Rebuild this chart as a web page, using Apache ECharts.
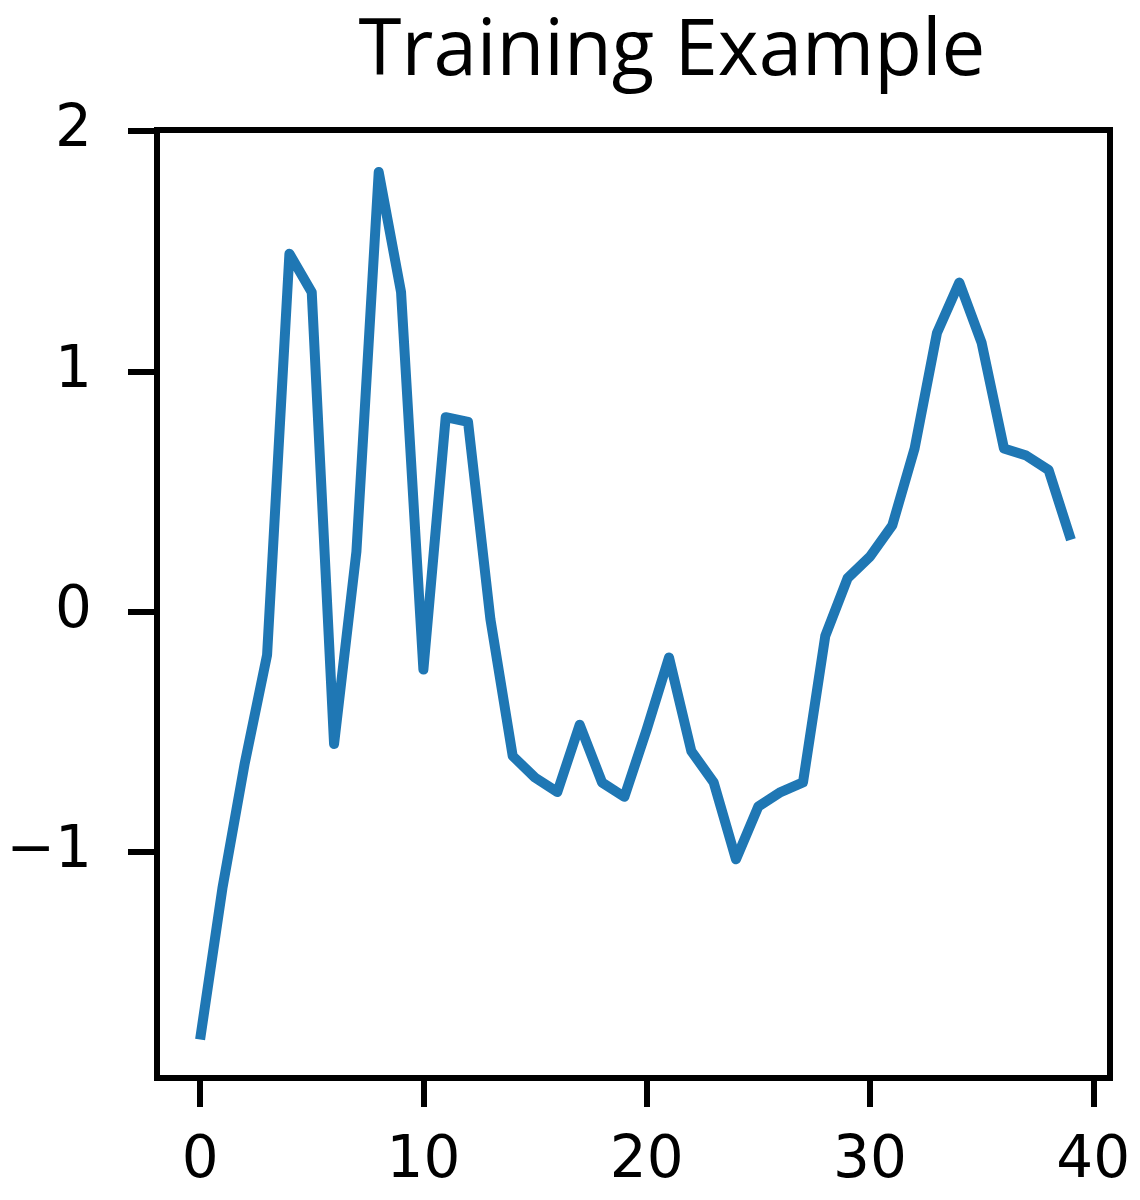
<!DOCTYPE html>
<html>
<head>
<meta charset="utf-8">
<script src="https://cdn.jsdelivr.net/npm/echarts@6/dist/echarts.min.js"></script>
<style>
html, body { margin: 0; padding: 0; background: #fff; }
#chart { width: 1140px; height: 1200px; }
</style>
</head>
<body>
<div id="chart"></div>
<script>
// step index along the x axis
var steps = [0, 1, 2, 3, 4, 5, 6, 7, 8, 9,
    10, 11, 12, 13, 14, 15, 16, 17, 18, 19,
    20, 21, 22, 23, 24, 25, 26, 27, 28, 29,
    30, 31, 32, 33, 34, 35, 36, 37, 38, 39];
// series values
var values = [-1.78, -1.15, -0.63, -0.18, 1.49, 1.33, -0.55, 0.25, 1.83, 1.33,
    -0.24, 0.81, 0.79, -0.03, -0.60, -0.69, -0.75, -0.47, -0.71, -0.77,
    -0.49, -0.19, -0.58, -0.71, -1.03, -0.81, -0.75, -0.71, -0.10, 0.14,
    0.23, 0.36, 0.68, 1.16, 1.37, 1.12, 0.68, 0.65, 0.59, 0.30];
var xTicks = [0, 10, 20, 30, 40];
var yTicks = [-1, 0, 1, 2];
var titleText = 'Training Example';

var points = [];
steps.forEach(function (s, i) {
    points.push([s, values[i]]);
});

var chart = echarts.init(document.getElementById('chart'));
var tickFont = {
    color: '#000',
    fontSize: 58,
    fontFamily: 'DejaVu Sans'
};
var option = {
    animation: false,
    backgroundColor: '#fff',
    graphic: [{
        type: 'text',
        x: 672,
        y: 53,
        style: {
            text: titleText,
            fontSize: 78,
            fontFamily: 'Open Sans',
            fill: '#000',
            align: 'center',
            verticalAlign: 'middle'
        }
    }],
    grid: {
        left: 157,
        right: 30,
        top: 130,
        bottom: 122,
        show: true,
        borderColor: '#000',
        borderWidth: 6,
        backgroundColor: 'transparent'
    },
    xAxis: {
        type: 'value',
        min: -1.93,
        max: 40.75,
        splitLine: { show: false },
        axisLine: { show: true, onZero: false, lineStyle: { color: '#000', width: 6 } },
        axisTick: {
            show: true,
            length: 29,
            customValues: xTicks,
            lineStyle: { color: '#000', width: 6 }
        },
        axisLabel: Object.assign({
            margin: 55,
            customValues: xTicks
        }, tickFont)
    },
    yAxis: {
        type: 'value',
        min: -1.94,
        max: 2.005,
        splitLine: { show: false },
        axisLine: { show: true, onZero: false, lineStyle: { color: '#000', width: 6 } },
        axisTick: {
            show: true,
            length: 29,
            customValues: yTicks,
            lineStyle: { color: '#000', width: 6 }
        },
        axisLabel: Object.assign({
            margin: 65,
            customValues: yTicks,
            formatter: function (v) {
                return v < 0 ? '\u2212' + Math.abs(v) : String(v);
            }
        }, tickFont)
    },
    series: [{
        type: 'line',
        data: points,
        symbol: 'none',
        showSymbol: false,
        lineStyle: {
            color: '#1f77b4',
            width: 10,
            cap: 'butt',
            join: 'round'
        }
    }]
};
chart.setOption(option);
</script>
</body>
</html>
